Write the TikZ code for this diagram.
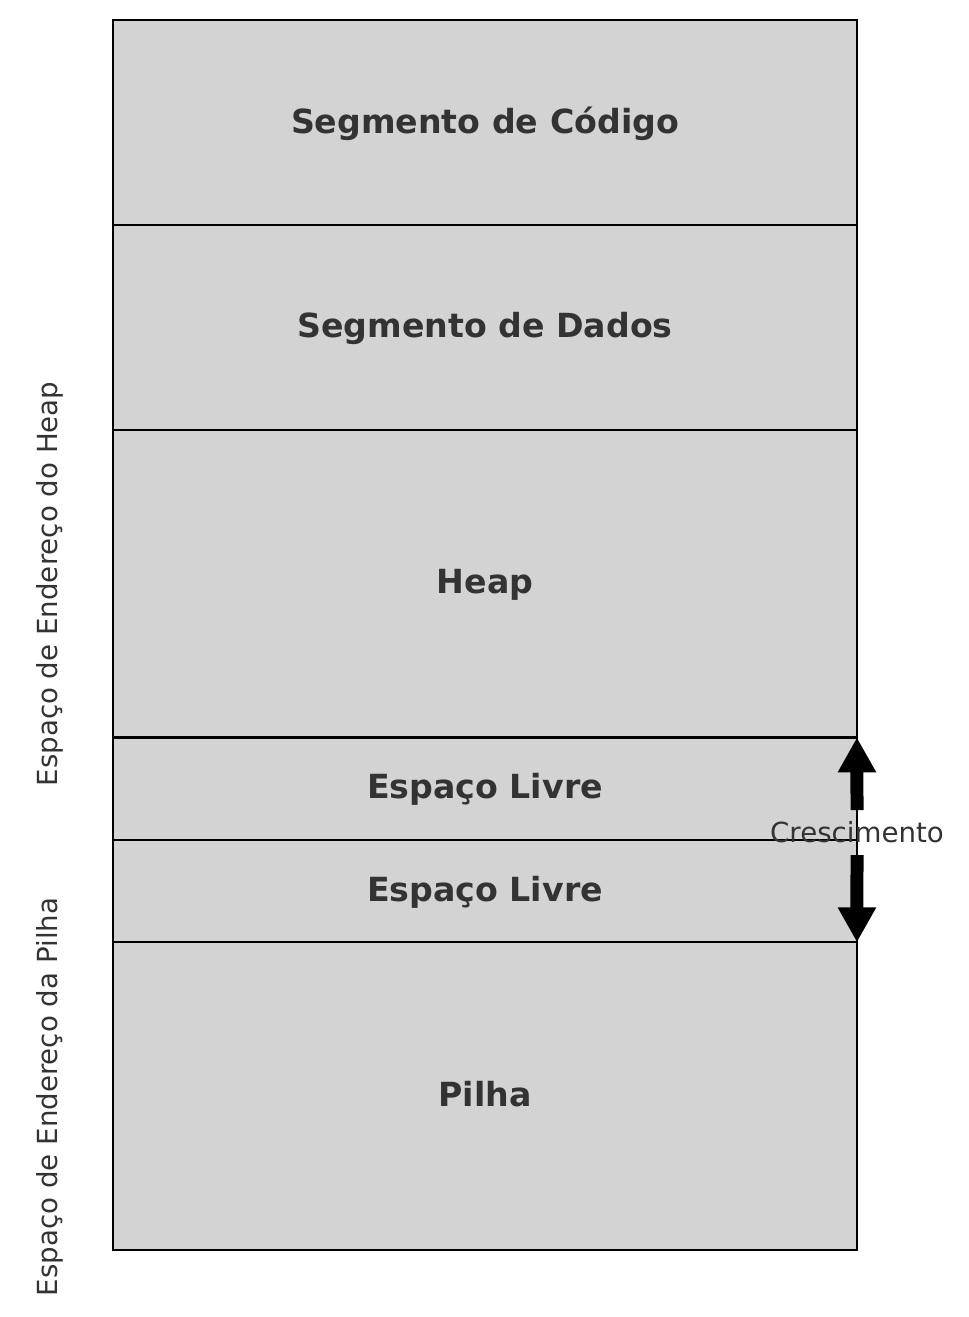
\documentclass[tikz,border=0pt]{standalone}
\usepackage{fontspec}
\setmainfont{DejaVu Sans}
\usetikzlibrary{positioning,arrows.meta}
\definecolor{textgray}{HTML}{333333}
\definecolor{segfill}{HTML}{D3D3D3}
\tikzstyle{segbox}=[draw=black, fill=segfill, line width=1.3pt, minimum width=14.88cm, inner sep=0pt, outer sep=0pt, text=textgray, text depth=0.5ex, font=\bfseries\fontsize{18.9}{22}\selectfont]
\tikzstyle{sidelabel}=[rotate=90, text=textgray, font=\fontsize{15.75}{19}\selectfont]
\tikzstyle{growth}=[line width=0.26cm, -{Triangle[width=0.72cm,length=0.7cm]}]

\begin{document}
\begin{tikzpicture}[x=0.02cm, y=-0.02cm]
				\useasboundingbox (0,0) rectangle (969,1317);

				\node[segbox, minimum height=4.1cm] (codigo) at (485,122.5) {Segmento de Código};
				\node[segbox, minimum height=4.1cm, below=0pt of codigo] (dados) {Segmento de Dados};
				\node[segbox, minimum height=6.15cm, below=0pt of dados] (heap) {Heap};
				\node[segbox, minimum height=2.05cm, below=0pt of heap] (livrea) {Espaço Livre};
				\node[segbox, minimum height=2.05cm, below=0pt of livrea] (livreb) {Espaço Livre};
				\node[segbox, minimum height=6.15cm, below=0pt of livreb] (pilha) {Pilha};

				\node[sidelabel] (espacoheap) at (50,584) {Espaço de Endereço do Heap};
				\node[sidelabel] (espacopilha) at (50,1097) {Espaço de Endereço da Pilha};

				\node[text=textgray, font=\fontsize{15.75}{19}\selectfont] (cresc) at (857,832) {Crescimento};

				\coordinate (upstart) at (857,810);
				\coordinate (downstart) at (857,855);

				\draw[growth] (upstart) -- (livrea.north east);
				\draw[growth] (downstart) -- (livreb.south east);
			\end{tikzpicture}
\end{document}
